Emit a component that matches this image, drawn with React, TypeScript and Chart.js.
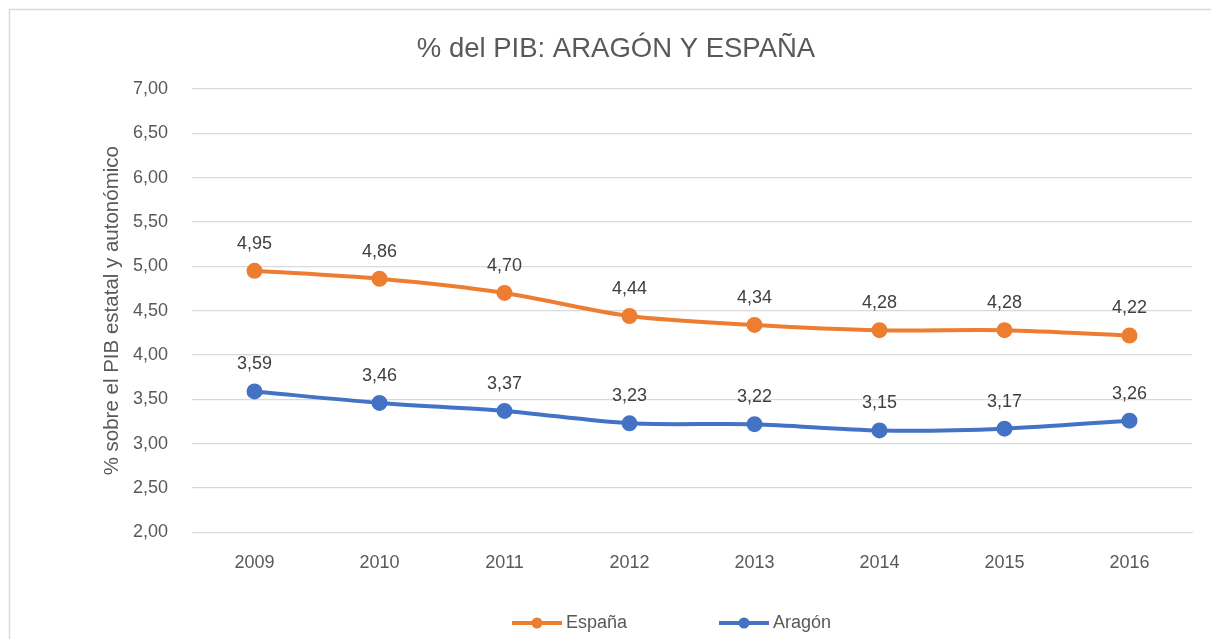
import React, { useEffect, useRef } from "react";
import { Chart, registerables } from "chart.js";

Chart.register(...registerables);

const years = ["2009", "2010", "2011", "2012", "2013", "2014", "2015", "2016"];
const espana = [4.95, 4.86, 4.7, 4.44, 4.34, 4.28, 4.28, 4.22];
const aragon = [3.59, 3.46, 3.37, 3.23, 3.22, 3.15, 3.17, 3.26];
const seriesNames = ["España", "Aragón"];
const seriesColors = ["#ED7D31", "#4472C4"];
const chartTitle = "% del PIB: ARAGÓN Y ESPAÑA";
const yTitle = "% sobre el PIB estatal y autonómico";

const FONT = "'Liberation Sans', 'DejaVu Sans', sans-serif";
const fmt = (v: number) => v.toFixed(2).replace(".", ",");

const framePlugin = {
  id: "frame",
  beforeDraw(chart: any) {
    const ctx = chart.ctx;
    ctx.save();
    ctx.fillStyle = "#ffffff";
    ctx.fillRect(0, 0, chart.width, chart.height);
    ctx.strokeStyle = "#d9d9d9";
    ctx.lineWidth = 1.5;
    ctx.beginPath();
    ctx.moveTo(9.5, chart.height);
    ctx.lineTo(9.5, 9.5);
    ctx.lineTo(chart.width, 9.5);
    ctx.stroke();
    ctx.restore();
  },
};

const labelsPlugin = {
  id: "dataLabels",
  afterDatasetsDraw(chart: any) {
    const ctx = chart.ctx;
    ctx.save();
    ctx.font = `18px ${FONT}`;
    ctx.fillStyle = "#404040";
    ctx.textAlign = "center";
    ctx.textBaseline = "middle";
    chart.data.datasets.forEach((ds: any, i: number) => {
      const meta = chart.getDatasetMeta(i);
      meta.data.forEach((pt: any, j: number) => {
        ctx.fillText(fmt(ds.data[j]), pt.x, pt.y - 27);
      });
    });
    ctx.restore();
  },
};

const legendPlugin = {
  id: "customLegend",
  afterDraw(chart: any) {
    const ctx = chart.ctx;
    const y = 623;
    const starts = [512, 719];
    ctx.save();
    chart.data.datasets.forEach((ds: any, i: number) => {
      const x0 = starts[i];
      ctx.strokeStyle = ds.borderColor;
      ctx.lineWidth = 4;
      ctx.beginPath();
      ctx.moveTo(x0, y);
      ctx.lineTo(x0 + 50, y);
      ctx.stroke();
      ctx.fillStyle = ds.borderColor;
      ctx.beginPath();
      ctx.arc(x0 + 25, y, 5.5, 0, Math.PI * 2);
      ctx.fill();
      ctx.font = `18px ${FONT}`;
      ctx.fillStyle = "#595959";
      ctx.textAlign = "left";
      ctx.textBaseline = "middle";
      ctx.fillText(ds.label, x0 + 54, y);
    });
    ctx.restore();
  },
};

export default function App() {
  const ref = useRef<HTMLCanvasElement | null>(null);
  useEffect(() => {
    if (!ref.current) return;
    const series = [espana, aragon];
    const chart = new Chart(ref.current, {
      type: "line",
      data: {
        labels: years,
        datasets: series.map((d, i) => ({
          label: seriesNames[i],
          data: d,
          borderColor: seriesColors[i],
          backgroundColor: seriesColors[i],
          borderWidth: 4,
          pointRadius: 6,
          pointHoverRadius: 6,
          tension: 0.3,
          fill: false,
        })),
      },
      options: {
        responsive: false,
        animation: false,
        layout: { padding: { top: 20, right: 19, bottom: 45, left: 40 } },
        plugins: {
          legend: { display: false },
          tooltip: { enabled: false },
          title: {
            display: true,
            text: chartTitle,
            color: "#595959",
            font: { family: FONT, size: 27.5, weight: "normal" },
            padding: { top: 12.5, bottom: 23.5 },
          },
        },
        scales: {
          x: {
            offset: true,
            grid: { display: false, drawTicks: false },
            border: { display: true, color: "#d9d9d9" },
            ticks: {
              color: "#595959",
              font: { family: FONT, size: 18 },
              padding: 20,
            },
          },
          y: {
            min: 2,
            max: 7,
            afterFit: (s: any) => {
              s.width = 152;
            },
            grid: { color: "#d9d9d9", drawTicks: false, lineWidth: 1.2 },
            border: { display: false },
            ticks: {
              stepSize: 0.5,
              color: "#595959",
              font: { family: FONT, size: 18 },
              padding: 24,
              callback: (v: any) => fmt(Number(v)),
            },
            title: {
              display: true,
              text: yTitle,
              color: "#595959",
              font: { family: FONT, size: 20.5, weight: "normal" },
              padding: { top: 60, bottom: 0 },
            },
          },
        },
      },
      plugins: [framePlugin, labelsPlugin, legendPlugin],
    });
    return () => chart.destroy();
  }, []);
  return (
    <div style={{ position: "fixed", left: 0, top: 0, width: 1211, height: 639 }}>
      <canvas ref={ref} width={1211} height={639} style={{ display: "block" }} />
    </div>
  );
}
